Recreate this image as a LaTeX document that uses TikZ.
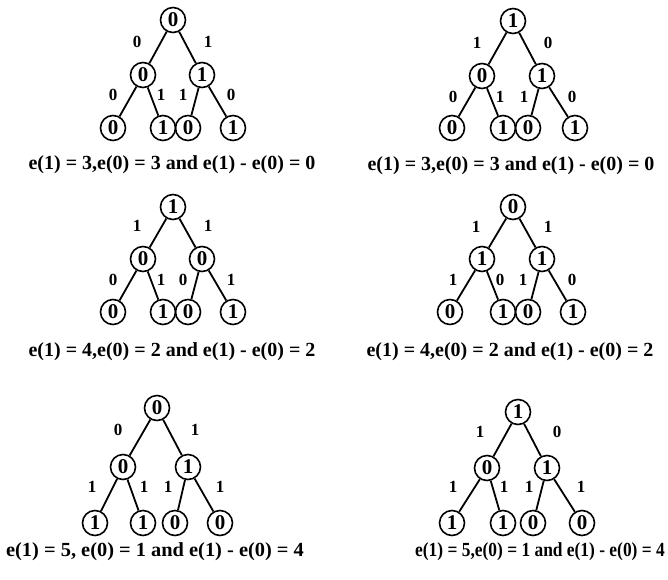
\documentclass[tikz,border=0pt]{standalone}
\usepackage{fontspec}
\setmainfont{Liberation Serif}
\begin{document}
\begin{tikzpicture}[x=1pt,y=-1pt,
  bit/.style={circle,draw,line width=1.6pt,minimum size=25pt,inner sep=0pt,
    font=\fontsize{21}{21}\selectfont\bfseries},
  lab/.style={inner sep=0pt,font=\fontsize{17}{17}\selectfont\bfseries},
  edge/.style={line width=1.8pt},
  captxt/.style={inner sep=0pt,font=\fontsize{20}{20}\selectfont\bfseries}]
\useasboundingbox (0,0) rectangle (668,579);

% ---------- tree 1 (top left)
\node[bit] (a0) at (173,20) {0};
\node[bit] (a1) at (143,75) {0};
\node[bit] (a2) at (202,75) {1};
\node[bit] (a3) at (113,128) {0};
\node[bit] (a4) at (163,128) {1};
\node[bit] (a5) at (188,128) {0};
\node[bit] (a6) at (233,128) {1};
\draw[edge] (a0)--(a1) (a0)--(a2) (a1)--(a3) (a1)--(a4) (a2)--(a5) (a2)--(a6);
\node[lab] (al1) at (137,42) {0};
\node[lab] (al2) at (208,42) {1};
\node[lab] (al3) at (113,95) {0};
\node[lab] (al4) at (161,95) {1};
\node[lab] (al5) at (183,95) {1};
\node[lab] (al6) at (231,95) {0};
\node[captxt] (ac) at (172,165) {e(1) = 3,e(0) = 3 and e(1) - e(0) = 0};

% ---------- tree 2 (top right)
\node[bit] (b0) at (513,21) {1};
\node[bit] (b1) at (482,76) {0};
\node[bit] (b2) at (542,76) {1};
\node[bit] (b3) at (452,128) {0};
\node[bit] (b4) at (503,128) {1};
\node[bit] (b5) at (528,128) {0};
\node[bit] (b6) at (575,128) {1};
\draw[edge] (b0)--(b1) (b0)--(b2) (b1)--(b3) (b1)--(b4) (b2)--(b5) (b2)--(b6);
\node[lab] (bl1) at (477,43) {1};
\node[lab] (bl2) at (548,43) {0};
\node[lab] (bl3) at (453,97) {0};
\node[lab] (bl4) at (500,97) {1};
\node[lab] (bl5) at (524,97) {1};
\node[lab] (bl6) at (572,97) {0};
\node[captxt] (bc) at (511,166) {e(1) = 3,e(0) = 3 and e(1) - e(0) = 0};

% ---------- tree 3 (middle left)
\node[bit] (c0) at (173,207) {1};
\node[bit] (c1) at (143,259) {0};
\node[bit] (c2) at (202,259) {0};
\node[bit] (c3) at (113,312) {0};
\node[bit] (c4) at (163,312) {1};
\node[bit] (c5) at (188,312) {0};
\node[bit] (c6) at (233,312) {1};
\draw[edge] (c0)--(c1) (c0)--(c2) (c1)--(c3) (c1)--(c4) (c2)--(c5) (c2)--(c6);
\node[lab] (cl1) at (137,226) {1};
\node[lab] (cl2) at (208,226) {1};
\node[lab] (cl3) at (113,280) {0};
\node[lab] (cl4) at (161,280) {1};
\node[lab] (cl5) at (183,280) {0};
\node[lab] (cl6) at (231,280) {1};
\node[captxt] (cc) at (172,352) {e(1) = 4,e(0) = 2 and e(1) - e(0) = 2};

% ---------- tree 4 (middle right)
\node[bit] (d0) at (513,207) {0};
\node[bit] (d1) at (482,259) {1};
\node[bit] (d2) at (542,259) {1};
\node[bit] (d3) at (450,312) {0};
\node[bit] (d4) at (503,312) {1};
\node[bit] (d5) at (528,312) {0};
\node[bit] (d6) at (573,312) {1};
\draw[edge] (d0)--(d1) (d0)--(d2) (d1)--(d3) (d1)--(d4) (d2)--(d5) (d2)--(d6);
\node[lab] (dl1) at (476,227) {1};
\node[lab] (dl2) at (548,227) {1};
\node[lab] (dl3) at (453,280) {1};
\node[lab] (dl4) at (500,280) {0};
\node[lab] (dl5) at (523,280) {1};
\node[lab] (dl6) at (572,280) {0};
\node[captxt] (dc) at (510,352) {e(1) = 4,e(0) = 2 and e(1) - e(0) = 2};

% ---------- tree 5 (bottom left)
\node[bit] (e0) at (157,408) {0};
\node[bit] (e1) at (123,467) {0};
\node[bit] (e2) at (188,467) {1};
\node[bit] (e3) at (95,523) {1};
\node[bit] (e4) at (143,523) {1};
\node[bit] (e5) at (175,523) {0};
\node[bit] (e6) at (220,523) {0};
\draw[edge] (e0)--(e1) (e0)--(e2) (e1)--(e3) (e1)--(e4) (e2)--(e5) (e2)--(e6);
\node[lab] (el1) at (118,430) {0};
\node[lab] (el2) at (195,430) {1};
\node[lab] (el3) at (92,487) {1};
\node[lab] (el4) at (144,487) {1};
\node[lab] (el5) at (168,487) {1};
\node[lab] (el6) at (220,487) {1};
\node[captxt,xscale=1.02] (ec) at (155,552) {e(1) = 5, e(0) = 1 and e(1) - e(0) = 4};

% ---------- tree 6 (bottom right)
\node[bit] (f0) at (518,412) {1};
\node[bit] (f1) at (487,468) {0};
\node[bit] (f2) at (547,468) {1};
\node[bit] (f3) at (452,523) {1};
\node[bit] (f4) at (503,523) {1};
\node[bit] (f5) at (533,523) {0};
\node[bit] (f6) at (582,523) {0};
\draw[edge] (f0)--(f1) (f0)--(f2) (f1)--(f3) (f1)--(f4) (f2)--(f5) (f2)--(f6);
\node[lab] (fl1) at (480,432) {1};
\node[lab] (fl2) at (557,432) {0};
\node[lab] (fl3) at (453,487) {1};
\node[lab] (fl4) at (504,487) {1};
\node[lab] (fl5) at (529,487) {1};
\node[lab] (fl6) at (581,487) {1};
\node[captxt,xscale=0.87] (fc) at (540,552) {e(1) = 5,e(0) = 1 and e(1) - e(0) = 4};
\end{tikzpicture}
\end{document}
